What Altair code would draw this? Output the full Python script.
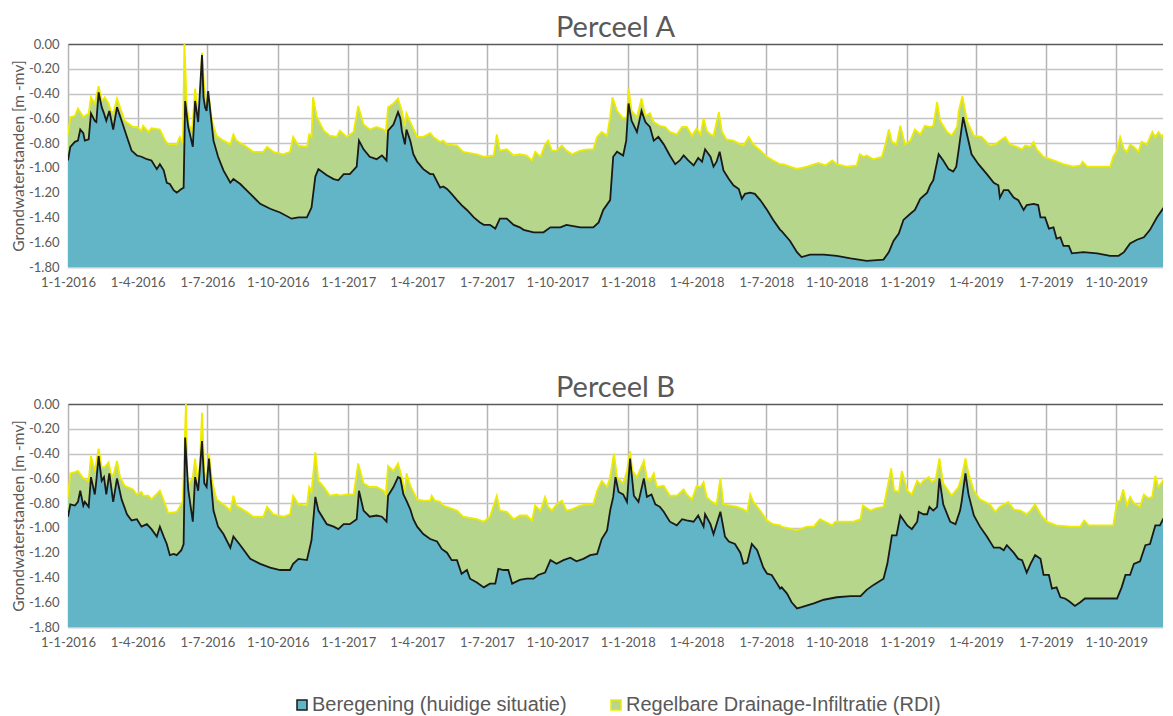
import altair as alt
import pandas as pd

START = "2016-01-01"
SER_BER = "Beregening (huidige situatie)"
SER_RDI = "Regelbare Drainage-Infiltratie (RDI)"
Y_TITLE = "Grondwaterstanden [m -mv]"
PANEL_TITLES = ["Perceel A", "Perceel B"]

# (day since 1-1-2016, groundwater level [m -mv])
perceel_a_rdi = [
    (0,-0.73),(3,-0.59),(9,-0.58),(13,-0.52),(20,-0.59),(27,-0.56),(30,-0.43),(35,-0.48),(40,-0.34),(44,-0.46),
    (48,-0.43),(53,-0.48),(56,-0.54),(59,-0.56),(64,-0.44),(68,-0.51),(74,-0.62),(85,-0.67),(90,-0.67),(96,-0.70),
    (98,-0.66),(105,-0.71),(109,-0.68),(120,-0.69),(127,-0.78),(131,-0.81),(142,-0.81),(146,-0.75),(150,-0.80),(152,0.00),
    (155,-0.48),(158,-0.65),(162,-0.70),(166,-0.36),(169,-0.51),(172,-0.54),(175,-0.07),(178,-0.35),(181,-0.51),(183,-0.38),
    (188,-0.62),(194,-0.74),(203,-0.78),(212,-0.81),(216,-0.73),(220,-0.78),(233,-0.83),(242,-0.87),(255,-0.87),(260,-0.83),
    (268,-0.87),(281,-0.89),(290,-0.87),(294,-0.75),(301,-0.82),(312,-0.83),(315,-0.73),(318,-0.75),(320,-0.43),(325,-0.59),
    (334,-0.70),(342,-0.74),(351,-0.75),(355,-0.70),(364,-0.75),(373,-0.71),(379,-0.50),(386,-0.65),(394,-0.69),(403,-0.67),
    (412,-0.69),(415,-0.71),(418,-0.51),(425,-0.48),(431,-0.44),(436,-0.54),(440,-0.66),(442,-0.56),(447,-0.63),(456,-0.75),
    (464,-0.75),(473,-0.72),(477,-0.75),(486,-0.79),(490,-0.78),(495,-0.81),(508,-0.82),(516,-0.87),(534,-0.89),(543,-0.91),
    (556,-0.90),(560,-0.73),(564,-0.86),(573,-0.85),(582,-0.90),(590,-0.89),(599,-0.90),(606,-0.94),(610,-0.87),(617,-0.91),
    (623,-0.81),(627,-0.78),(632,-0.86),(638,-0.86),(645,-0.82),(651,-0.86),(658,-0.89),(669,-0.86),(678,-0.85),(686,-0.85),
    (691,-0.75),(697,-0.71),(704,-0.74),(708,-0.59),(711,-0.43),(717,-0.54),(725,-0.60),(730,-0.59),(732,-0.36),(736,-0.54),
    (743,-0.59),(749,-0.44),(754,-0.58),(760,-0.56),(765,-0.63),(773,-0.66),(780,-0.67),(786,-0.71),(795,-0.73),(802,-0.67),
    (808,-0.67),(815,-0.74),(821,-0.68),(826,-0.73),(830,-0.60),(834,-0.70),(839,-0.73),(843,-0.74),(850,-0.55),(854,-0.71),
    (860,-0.77),(869,-0.78),(878,-0.81),(882,-0.82),(889,-0.75),(895,-0.81),(904,-0.86),(913,-0.91),(921,-0.94),(930,-0.97),
    (934,-0.97),(952,-1.01),(965,-0.99),(980,-0.96),(989,-0.98),(998,-0.94),(1004,-0.97),(1017,-0.99),(1030,-0.98),(1034,-0.89),
    (1039,-0.91),(1043,-0.90),(1052,-0.93),(1063,-0.91),(1067,-0.82),(1072,-0.69),(1076,-0.79),(1082,-0.81),(1087,-0.66),(1093,-0.81),
    (1100,-0.78),(1106,-0.69),(1113,-0.73),(1119,-0.66),(1126,-0.67),(1130,-0.66),(1135,-0.47),(1139,-0.62),(1148,-0.71),(1154,-0.74),
    (1161,-0.67),(1163,-0.55),(1168,-0.42),(1174,-0.62),(1183,-0.74),(1193,-0.75),(1204,-0.82),(1211,-0.81),(1217,-0.78),(1224,-0.75),
    (1230,-0.81),(1239,-0.83),(1246,-0.85),(1250,-0.82),(1257,-0.83),(1261,-0.79),(1265,-0.85),(1274,-0.91),(1287,-0.94),(1300,-0.97),
    (1313,-0.99),(1322,-0.98),(1325,-0.95),(1331,-0.99),(1344,-0.99),(1361,-0.99),(1365,-0.91),(1370,-0.86),(1374,-0.75),(1379,-0.85),
    (1383,-0.87),(1387,-0.81),(1392,-0.83),(1398,-0.87),(1402,-0.79),(1409,-0.81),(1416,-0.71),(1420,-0.75),(1424,-0.71),(1429,-0.75),
    (1435,-0.67),(1439,-0.56),(1443,-0.51),
]

perceel_a_ber = [
    (0,-0.94),(3,-0.83),(9,-0.79),(13,-0.78),(16,-0.69),(20,-0.72),(22,-0.78),(27,-0.77),(30,-0.56),(35,-0.62),
    (37,-0.63),(40,-0.39),(44,-0.51),(47,-0.56),(50,-0.62),(54,-0.54),(59,-0.69),(64,-0.51),(70,-0.62),(77,-0.75),
    (83,-0.86),(90,-0.90),(96,-0.91),(103,-0.93),(109,-0.94),(116,-1.01),(120,-0.97),(125,-1.02),(129,-1.12),(133,-1.13),
    (138,-1.18),(142,-1.20),(148,-1.17),(151,-1.16),(153,-0.46),(157,-0.67),(163,-0.83),(166,-0.46),(170,-0.63),(175,-0.09),
    (177,-0.43),(179,-0.51),(181,-0.54),(183,-0.38),(190,-0.78),(196,-0.91),(203,-1.02),(212,-1.12),(216,-1.09),(225,-1.13),
    (238,-1.21),(251,-1.29),(264,-1.33),(277,-1.36),(292,-1.41),(301,-1.40),(312,-1.40),(318,-1.32),(323,-1.07),(327,-1.01),
    (338,-1.06),(347,-1.09),(353,-1.10),(360,-1.05),(368,-1.05),(377,-0.99),(380,-0.78),(386,-0.85),(394,-0.91),(403,-0.93),
    (410,-0.90),(416,-0.94),(418,-0.70),(425,-0.65),(431,-0.55),(434,-0.60),(436,-0.70),(440,-0.81),(442,-0.69),(447,-0.78),
    (451,-0.89),(456,-0.95),(464,-1.01),(473,-1.05),(477,-1.05),(486,-1.16),(490,-1.15),(495,-1.17),(501,-1.21),(508,-1.26),
    (514,-1.30),(521,-1.34),(530,-1.40),(538,-1.44),(543,-1.46),(551,-1.46),(558,-1.49),(564,-1.41),(573,-1.41),(582,-1.46),
    (590,-1.48),(595,-1.50),(608,-1.52),(621,-1.52),(630,-1.48),(643,-1.48),(651,-1.46),(669,-1.48),(686,-1.48),(693,-1.44),
    (699,-1.34),(708,-1.26),(712,-0.91),(717,-0.87),(725,-0.90),(729,-0.78),(732,-0.48),(736,-0.62),(743,-0.71),(749,-0.54),
    (754,-0.63),(760,-0.67),(765,-0.78),(771,-0.75),(778,-0.81),(786,-0.90),(793,-0.97),(799,-0.94),(804,-0.90),(810,-0.94),
    (817,-0.98),(823,-0.92),(828,-0.95),(832,-0.85),(839,-0.91),(843,-0.99),(847,-0.95),(851,-0.87),(856,-1.02),(863,-1.09),
    (869,-1.14),(876,-1.17),(880,-1.25),(884,-1.21),(891,-1.20),(897,-1.21),(904,-1.26),(913,-1.34),(921,-1.42),(930,-1.50),
    (932,-1.51),(943,-1.59),(952,-1.68),(958,-1.72),(969,-1.70),(987,-1.70),(1004,-1.71),(1022,-1.73),(1043,-1.75),(1065,-1.74),
    (1072,-1.68),(1078,-1.59),(1085,-1.53),(1091,-1.42),(1100,-1.37),(1106,-1.34),(1113,-1.25),(1122,-1.20),(1126,-1.14),(1130,-1.10),
    (1135,-0.95),(1137,-0.89),(1143,-0.94),(1150,-1.01),(1156,-1.03),(1160,-0.99),(1163,-0.86),(1169,-0.59),(1174,-0.73),(1180,-0.89),
    (1189,-0.97),(1200,-1.05),(1209,-1.12),(1215,-1.14),(1217,-1.24),(1222,-1.18),(1228,-1.18),(1235,-1.24),(1241,-1.26),(1248,-1.34),
    (1252,-1.30),(1261,-1.29),(1267,-1.30),(1270,-1.40),(1276,-1.40),(1281,-1.49),(1287,-1.48),(1291,-1.57),(1296,-1.56),(1300,-1.63),
    (1307,-1.63),(1311,-1.69),(1326,-1.68),(1344,-1.69),(1361,-1.71),(1372,-1.71),(1379,-1.68),(1387,-1.61),(1396,-1.58),(1405,-1.56),
    (1413,-1.50),(1422,-1.40),(1431,-1.32),(1437,-1.24),(1443,-1.07),
]

perceel_b_rdi = [
    (0,-0.75),(3,-0.56),(9,-0.55),(13,-0.54),(20,-0.60),(27,-0.62),(30,-0.42),(35,-0.54),(40,-0.36),(44,-0.51),
    (48,-0.51),(53,-0.47),(56,-0.56),(59,-0.58),(64,-0.46),(68,-0.59),(74,-0.66),(85,-0.69),(90,-0.73),(96,-0.71),
    (98,-0.74),(105,-0.74),(109,-0.77),(120,-0.70),(127,-0.81),(131,-0.88),(142,-0.87),(146,-0.83),(150,-0.78),(154,0.00),
    (156,-0.62),(159,-0.64),(163,-0.59),(166,-0.44),(169,-0.62),(172,-0.51),(175,-0.07),(178,-0.54),(181,-0.62),(184,-0.40),
    (188,-0.62),(194,-0.77),(203,-0.81),(212,-0.86),(216,-0.74),(220,-0.82),(233,-0.87),(242,-0.91),(255,-0.91),(260,-0.83),
    (268,-0.89),(281,-0.91),(290,-0.89),(294,-0.74),(301,-0.81),(312,-0.82),(315,-0.67),(318,-0.71),(323,-0.39),(327,-0.62),
    (334,-0.67),(342,-0.74),(351,-0.73),(355,-0.74),(364,-0.73),(373,-0.73),(379,-0.48),(386,-0.64),(394,-0.67),(403,-0.67),
    (412,-0.70),(415,-0.73),(418,-0.50),(425,-0.54),(431,-0.48),(436,-0.59),(440,-0.71),(442,-0.56),(447,-0.66),(456,-0.77),
    (464,-0.78),(473,-0.78),(475,-0.74),(479,-0.78),(486,-0.79),(490,-0.82),(495,-0.83),(508,-0.86),(516,-0.91),(534,-0.93),
    (543,-0.95),(551,-0.91),(560,-0.74),(564,-0.86),(573,-0.87),(582,-0.93),(590,-0.90),(599,-0.90),(606,-0.94),(610,-0.82),
    (617,-0.86),(623,-0.75),(627,-0.83),(632,-0.86),(638,-0.81),(645,-0.78),(651,-0.86),(658,-0.85),(669,-0.82),(678,-0.81),
    (686,-0.81),(691,-0.70),(697,-0.62),(704,-0.67),(708,-0.59),(713,-0.40),(717,-0.59),(725,-0.64),(730,-0.54),(734,-0.38),
    (737,-0.54),(743,-0.59),(752,-0.46),(756,-0.60),(760,-0.62),(765,-0.56),(769,-0.67),(778,-0.66),(786,-0.74),(795,-0.74),
    (804,-0.69),(808,-0.73),(815,-0.77),(821,-0.66),(826,-0.67),(830,-0.63),(834,-0.75),(841,-0.79),(847,-0.81),(852,-0.60),
    (856,-0.81),(865,-0.82),(874,-0.83),(882,-0.85),(887,-0.87),(891,-0.73),(895,-0.79),(904,-0.86),(913,-0.94),(921,-0.97),
    (930,-0.98),(932,-0.99),(952,-1.02),(965,-0.99),(974,-0.99),(982,-0.93),(989,-0.95),(998,-0.98),(1002,-0.95),(1013,-0.95),
    (1026,-0.95),(1035,-0.93),(1038,-0.82),(1043,-0.84),(1048,-0.86),(1056,-0.84),(1065,-0.83),(1069,-0.71),(1075,-0.52),(1079,-0.70),
    (1085,-0.71),(1089,-0.54),(1096,-0.70),(1102,-0.73),(1109,-0.62),(1113,-0.65),(1117,-0.62),(1124,-0.59),(1128,-0.63),(1133,-0.61),
    (1138,-0.44),(1143,-0.64),(1154,-0.74),(1163,-0.67),(1167,-0.59),(1172,-0.44),(1176,-0.56),(1183,-0.70),(1191,-0.77),(1204,-0.81),
    (1211,-0.87),(1217,-0.83),(1228,-0.79),(1235,-0.85),(1244,-0.86),(1252,-0.89),(1257,-0.86),(1263,-0.81),(1270,-0.89),(1278,-0.95),
    (1291,-0.98),(1309,-0.99),(1322,-0.99),(1327,-0.94),(1333,-0.98),(1348,-0.98),(1365,-0.98),(1370,-0.79),(1374,-0.78),(1378,-0.69),
    (1383,-0.82),(1387,-0.75),(1392,-0.80),(1400,-0.83),(1405,-0.73),(1411,-0.76),(1416,-0.75),(1420,-0.58),(1424,-0.67),(1430,-0.62),
    (1435,-0.67),(1439,-0.62),(1443,-0.54),
]

perceel_b_ber = [
    (0,-0.91),(3,-0.81),(9,-0.82),(13,-0.79),(16,-0.70),(20,-0.82),(22,-0.79),(27,-0.83),(30,-0.59),(35,-0.73),
    (37,-0.62),(40,-0.42),(44,-0.62),(47,-0.59),(50,-0.73),(54,-0.56),(59,-0.79),(64,-0.60),(70,-0.77),(77,-0.89),
    (83,-0.94),(90,-0.93),(96,-0.99),(103,-0.97),(109,-1.01),(116,-1.07),(120,-0.99),(125,-1.07),(129,-1.13),(133,-1.22),
    (138,-1.21),(142,-1.22),(148,-1.18),(151,-1.13),(153,-0.27),(157,-0.69),(163,-0.95),(166,-0.59),(170,-0.70),(175,-0.30),
    (178,-0.64),(181,-0.67),(184,-0.44),(190,-0.86),(196,-0.99),(203,-1.05),(212,-1.16),(216,-1.07),(225,-1.14),(238,-1.25),
    (251,-1.29),(264,-1.32),(277,-1.34),(290,-1.34),(294,-1.29),(301,-1.25),(312,-1.26),(318,-1.10),(323,-0.75),(327,-0.86),
    (338,-0.97),(347,-0.99),(353,-1.01),(360,-0.97),(368,-0.97),(377,-0.93),(380,-0.70),(386,-0.86),(394,-0.91),(403,-0.90),
    (410,-0.91),(416,-0.95),(418,-0.74),(425,-0.67),(431,-0.59),(434,-0.60),(438,-0.73),(442,-0.78),(447,-0.85),(451,-0.93),
    (456,-0.99),(464,-1.05),(473,-1.09),(482,-1.11),(488,-1.17),(495,-1.20),(501,-1.26),(508,-1.26),(514,-1.37),(521,-1.34),
    (525,-1.41),(534,-1.44),(543,-1.48),(551,-1.45),(558,-1.45),(562,-1.33),(569,-1.34),(575,-1.34),(580,-1.45),(590,-1.42),
    (599,-1.41),(608,-1.41),(614,-1.38),(623,-1.36),(630,-1.26),(638,-1.29),(647,-1.26),(656,-1.24),(664,-1.27),(673,-1.25),
    (682,-1.22),(691,-1.21),(697,-1.09),(704,-1.02),(708,-0.86),(712,-0.75),(715,-0.59),(719,-0.71),(725,-0.73),(730,-0.79),
    (734,-0.44),(739,-0.74),(745,-0.79),(752,-0.60),(756,-0.75),(762,-0.73),(767,-0.81),(773,-0.83),(778,-0.87),(786,-0.95),
    (795,-0.98),(802,-0.93),(808,-0.94),(817,-0.95),(823,-0.90),(830,-0.99),(832,-0.89),(839,-0.97),(843,-1.05),(852,-0.87),
    (858,-1.07),(863,-1.11),(871,-1.13),(878,-1.20),(882,-1.29),(887,-1.28),(893,-1.13),(900,-1.18),(908,-1.32),(913,-1.37),
    (919,-1.38),(926,-1.45),(930,-1.49),(932,-1.48),(939,-1.53),(945,-1.60),(952,-1.65),(958,-1.64),(974,-1.61),(987,-1.58),
    (1004,-1.56),(1022,-1.55),(1035,-1.55),(1043,-1.50),(1052,-1.46),(1065,-1.41),(1070,-1.29),(1076,-1.06),(1082,-1.06),(1087,-0.90),
    (1096,-0.98),(1102,-1.01),(1109,-0.95),(1111,-0.87),(1117,-0.89),(1122,-0.89),(1125,-0.83),(1130,-0.86),(1135,-0.83),(1138,-0.60),
    (1143,-0.81),(1152,-0.95),(1159,-0.97),(1165,-0.86),(1167,-0.79),(1172,-0.56),(1176,-0.73),(1183,-0.90),(1191,-0.99),(1200,-1.07),
    (1209,-1.16),(1217,-1.16),(1222,-1.18),(1226,-1.14),(1235,-1.20),(1241,-1.25),(1246,-1.26),(1252,-1.36),(1257,-1.29),(1263,-1.22),
    (1270,-1.25),(1274,-1.38),(1281,-1.38),(1285,-1.49),(1291,-1.48),(1296,-1.56),(1302,-1.57),(1307,-1.59),(1315,-1.63),(1322,-1.60),
    (1328,-1.57),(1342,-1.57),(1370,-1.57),(1376,-1.48),(1381,-1.38),(1387,-1.38),(1392,-1.29),(1400,-1.27),(1407,-1.14),(1413,-1.13),
    (1420,-0.98),(1426,-0.98),(1430,-0.93),(1435,-0.95),(1439,-0.89),(1443,-0.81),
]

y_ticks = [-1.8, -1.6, -1.4, -1.2, -1.0, -0.8, -0.6, -0.4, -0.2, 0.0]
x_ticks = [(y, m) for y in (2016, 2017, 2018, 2019) for m in (1, 4, 7, 10)]
x_end = (2019, 12, 1)

COL_BER_FILL = "#62b5c6"
COL_RDI_FILL = "#b5d68b"
COL_BER_LINE = "#1a1a1a"
COL_RDI_LINE = "#eeea00"


def frame(pairs, name):
    days = [p[0] for p in pairs]
    vals = [p[1] for p in pairs]
    dates = pd.Timestamp(START) + pd.to_timedelta(days, unit="D")
    return pd.DataFrame({
        "date": dates.strftime("%Y-%m-%dT00:00:00"),
        "value": vals,
        "series": name,
    })


fill_scale = alt.Scale(domain=[SER_BER, SER_RDI], range=[COL_BER_FILL, COL_RDI_FILL])
stroke_scale = alt.Scale(domain=[SER_BER, SER_RDI], range=[COL_BER_LINE, COL_RDI_LINE])
legend = alt.Legend(
    title=None, orient="none", legendX=224, legendY=651, direction="horizontal",
    symbolType="square", symbolSize=100, symbolStrokeWidth=1.5,
    labelFont="Liberation Sans", labelFontSize=20, labelColor="#595959",
    columnPadding=39, labelOffset=0, labelLimit=0,
)

x_axis = alt.Axis(
    values=[alt.DateTime(year=y, month=m, date=1) for y, m in x_ticks],
    format="%-d-%-m-%Y", labelAngle=0, labelFlush=False, labelOverlap=False,
    labelFont="Lato", labelFontSize=13, labelColor="#595959", labelPadding=9,
    ticks=False, grid=True, gridColor="#b4b4b4", gridWidth=1.5,
    domainColor="#c8c8c8", domainWidth=1.5, title=None,
)
y_axis = alt.Axis(
    values=y_ticks,
    labelExpr="replace(format(datum.value, '.2f'), '\u2212', '-')",
    labelFont="Lato", labelFontSize=13, labelColor="#595959", labelPadding=9,
    ticks=False, domain=False, grid=True,
    gridColor=alt.condition("datum.value === 0", alt.value("#595959"), alt.value("#c4c4c4")),
    gridWidth=1.5,
    title=Y_TITLE, titleFont="Lato", titleFontSize=15.5, titleFontWeight="normal",
    titleColor="#595959", titlePadding=2,
)

x_scale = alt.Scale(domain=[alt.DateTime(year=2016, month=1, date=1),
                            alt.DateTime(year=x_end[0], month=x_end[1], date=x_end[2])])
y_scale = alt.Scale(domain=[-1.8, 0.0], nice=False)


def panel(title, rdi_pairs, ber_pairs):
    rdi = frame(rdi_pairs, SER_RDI)
    ber = frame(ber_pairs, SER_BER)
    x = alt.X("date:T", scale=x_scale, axis=x_axis)
    y = alt.Y("value:Q", scale=y_scale, axis=y_axis)
    fill = alt.Fill("series:N", scale=fill_scale, legend=legend)
    stroke = alt.Stroke("series:N", scale=stroke_scale, legend=legend)
    green = alt.Chart(rdi).mark_area(clip=True).encode(x=x, y=y, y2=alt.datum(-1.8), fill=fill)
    yellow = alt.Chart(rdi).mark_line(clip=True, strokeWidth=1.8).encode(x=x, y=y, stroke=stroke)
    blue = alt.Chart(ber).mark_area(clip=True).encode(x=x, y=y, y2=alt.datum(-1.8), fill=fill)
    black = alt.Chart(ber).mark_line(clip=True, strokeWidth=1.8).encode(x=x, y=y, stroke=stroke)
    return alt.layer(green, yellow, blue, black).properties(
        width=1095, height=223,
        title=alt.TitleParams(title, font="Lato", fontSize=29, fontWeight="normal",
                              color="#595959", anchor="middle", offset=-5),
    )


chart = alt.vconcat(
    panel(PANEL_TITLES[0], perceel_a_rdi, perceel_a_ber),
    panel(PANEL_TITLES[1], perceel_b_rdi, perceel_b_ber),
    spacing=85,
).properties(
    padding={"left": 3, "top": 6, "right": 0, "bottom": 0},
).configure_view(stroke=None)

chart.save("out.html", embed_options={"renderer": "svg", "actions": False})
